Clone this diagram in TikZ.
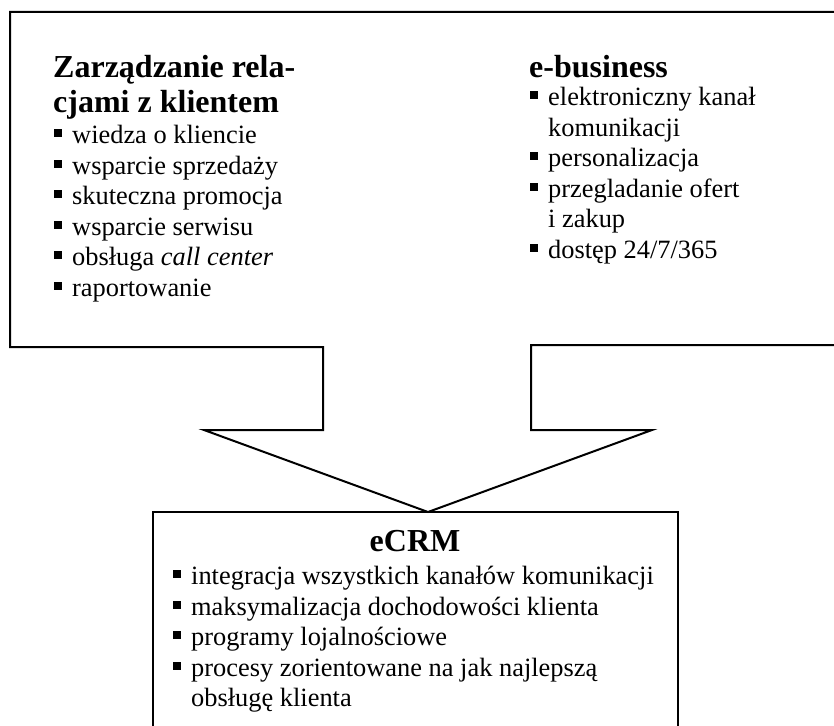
\documentclass[tikz,border=0pt]{standalone}
\usepackage{fontspec}
\setmainfont{Liberation Serif}
\usepackage{tikz}
\usetikzlibrary{positioning}
\newcommand{\sqbul}{\rule[6.5pt]{8pt}{8pt}\hspace{10pt}}
\newcommand{\cont}{\hspace*{18pt}}
\tikzset{
    outline/.style={line width=2pt, line join=miter}, % obrys ramek i strzalki
    head/.style={font=\fontsize{32}{35}\selectfont\bfseries, inner sep=0pt, align=left},
    items/.style={font=\fontsize{26.4}{30.5}\selectfont, inner sep=0pt, align=left}
}
\begin{document}
\begin{tikzpicture}[x=1pt, y=-1pt]
    \useasboundingbox (0,0) rectangle (834,725);
    \fill[white] (0,0) rectangle (834,725);
    \clip (0,0) rectangle (834,725);

    % gorna ramka razem ze strzalka
    \draw[outline] (840,12) -- (10,12) -- (10,347) -- (323,347) -- (323,430) -- (204,430)
        -- (428,512) -- (652,430) -- (531,430) -- (531,345) -- (840,345);
    % dolna ramka (ucieta u dolu)
    \draw[outline] (153,730) -- (153,512) -- (678,512) -- (678,730);

    \node[head, anchor=north west] (crm) at (53,55) {Zarządzanie rela-\\cjami z klientem};
    \node[items, anchor=north west] (crmlist) at (54,125) {%
        \sqbul wiedza o kliencie\\
        \sqbul wsparcie sprzedaży\\
        \sqbul skuteczna promocja\\
        \sqbul wsparcie serwisu\\
        \sqbul obsługa \textit{call center}\\
        \sqbul raportowanie};

    \node[head, anchor=north west] (eb) at (529,55) {e-business};
    \node[items, anchor=north west] (eblist) at (530,87) {%
        \sqbul elektroniczny kanał\\
        \cont komunikacji\\
        \sqbul personalizacja\\
        \sqbul przegladanie ofert\\
        \cont i zakup\\
        \sqbul dostęp 24/7/365};

    \node[head, anchor=north] (ecrm) at (415,530) {eCRM};
    \node[items, anchor=north west] (ecrmlist) at (173,566) {%
        \sqbul integracja wszystkich kanałów komunikacji\\
        \sqbul maksymalizacja dochodowości klienta\\
        \sqbul programy lojalnościowe\\
        \sqbul procesy zorientowane na jak najlepszą\\
        \cont obsługę klienta};
\end{tikzpicture}
\end{document}
